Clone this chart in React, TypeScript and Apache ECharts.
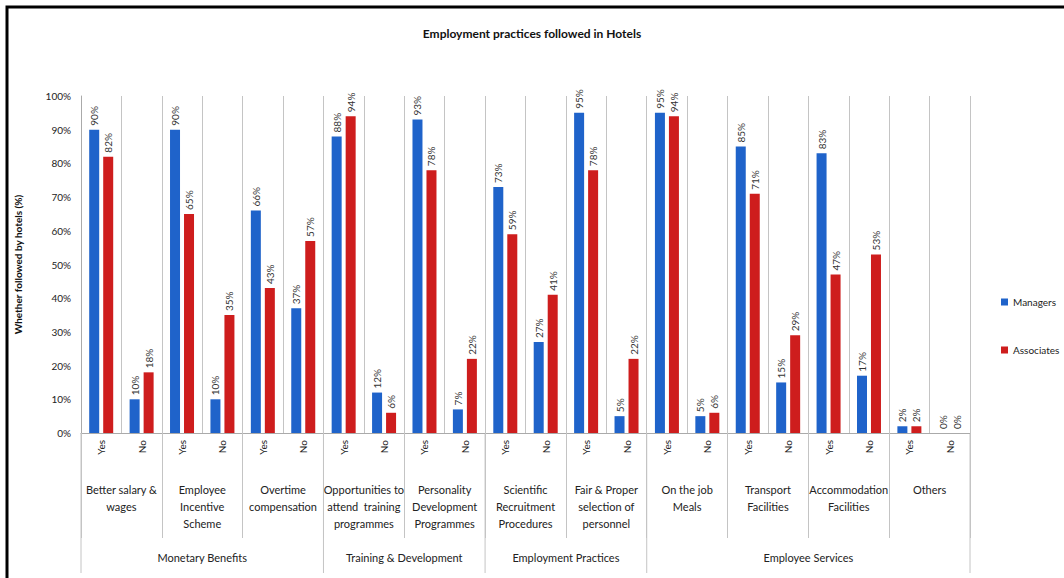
import React, { useEffect, useRef } from "react";
import * as echarts from "echarts";

const categories = [
  "Yes", "No", "Yes", "No", "Yes", "No", "Yes", "No", "Yes", "No", "Yes",
  "No", "Yes", "No", "Yes", "No", "Yes", "No", "Yes", "No", "Yes", "No",
];
const practices = [
  "Better salary &\nwages",
  "Employee\nIncentive\nScheme",
  "Overtime\ncompensation",
  "Opportunities to\nattend  training\nprogrammes",
  "Personality\nDevelopment\nProgrammes",
  "Scientific\nRecruitment\nProcedures",
  "Fair & Proper\nselection of\npersonnel",
  "On the job\nMeals",
  "Transport\nFacilities",
  "Accommodation\nFacilities",
  "Others",
];
const groups = ["Monetary Benefits", "Training & Development", "Employment Practices", "Employee Services"];
const groupPracticeCounts = [3, 2, 2, 4];
const managers = [90, 10, 90, 10, 66, 37, 88, 12, 93, 7, 73, 27, 95, 5, 95, 5, 85, 15, 83, 17, 2, 0];
const associates = [82, 18, 65, 35, 43, 57, 94, 6, 78, 22, 59, 41, 78, 22, 94, 6, 71, 29, 47, 53, 2, 0];
const yTicks = { min: 0, max: 100, interval: 10 };

const FONT = "Lato, 'Liberation Sans', sans-serif";
const BLUE = "#1F63CA";
const RED = "#CE1D1D";
const GRIDLINE = "#c4c4c4";

export default function App() {
  const ref = useRef<HTMLDivElement>(null);
  useEffect(() => {
    if (!ref.current) return;
    const chart = echarts.init(ref.current, null, { renderer: "svg" });
    const labelOpt = {
      show: true,
      position: "top",
      rotate: 90,
      align: "left",
      verticalAlign: "middle",
      distance: 4,
      formatter: "{c}%",
      fontSize: 10,
      fontFamily: FONT,
      color: "#333",
    };
    chart.setOption({
      animation: false,
      backgroundColor: "#fff",
      textStyle: { fontFamily: FONT },
      title: {
        text: "Employment practices followed in Hotels",
        left: "center",
        top: 22,
        textStyle: { fontSize: 12, fontWeight: "bold", color: "#111", fontFamily: FONT },
      },
      legend: {
        data: ["Managers", "Associates"],
        orient: "vertical",
        left: 996,
        top: 292,
        itemWidth: 7,
        itemHeight: 7,
        itemGap: 38,
        icon: "rect",
        textStyle: { fontSize: 10, color: "#222", fontFamily: FONT },
      },
      grid: { left: 81, right: 94, top: 96, bottom: 145, containLabel: false },
      xAxis: [
        {
          type: "category",
          data: categories,
          position: "bottom",
          axisLine: { show: true, lineStyle: { color: "#aaa" } },
          axisTick: { show: false },
          axisLabel: { interval: 0, rotate: 90, margin: 7, fontSize: 10, color: "#222", fontFamily: FONT },
          splitLine: { show: true, interval: 0, lineStyle: { color: GRIDLINE } },
        },
        {
          type: "category",
          data: practices,
          position: "bottom",
          axisLine: { show: false },
          axisTick: { show: true, interval: 0, length: 105, lineStyle: { color: GRIDLINE } },
          axisLabel: { interval: 0, margin: 48, fontSize: 11, lineHeight: 17, color: "#222", fontFamily: FONT },
          splitLine: { show: false },
        },
      ],
      yAxis: {
        type: "value",
        min: yTicks.min,
        max: yTicks.max,
        interval: yTicks.interval,
        name: "Whether followed by hotels (%)",
        nameLocation: "middle",
        nameGap: 58,
        nameTextStyle: { fontSize: 10, fontWeight: "bold", color: "#111", fontFamily: FONT },
        axisLine: { show: true, lineStyle: { color: "#aaa" } },
        axisTick: { show: false },
        axisLabel: { formatter: "{value}%", fontSize: 10, margin: 10, color: "#222", fontFamily: FONT },
        splitLine: { show: false },
      },
      series: [
        {
          name: "Managers",
          type: "bar",
          xAxisIndex: 0,
          data: managers,
          barWidth: 10,
          barGap: "40%",
          itemStyle: { color: BLUE },
          label: labelOpt,
        },
        {
          name: "Associates",
          type: "bar",
          xAxisIndex: 0,
          data: associates,
          barWidth: 10,
          barGap: "40%",
          itemStyle: { color: RED },
          label: labelOpt,
        },
      ],
    });

    const c0 = chart.convertToPixel({ xAxisIndex: 0 }, 0) as number;
    const c1 = chart.convertToPixel({ xAxisIndex: 0 }, 1) as number;
    const w = c1 - c0;
    const yBase = chart.convertToPixel({ yAxisIndex: 0 }, 0) as number;
    const bound = (i: number) => c0 - w / 2 + i * w;
    const elements: any[] = [];
    let idx = 0;
    const bounds = [0];
    groupPracticeCounts.forEach((n) => {
      idx += n * 2;
      bounds.push(idx);
    });
    bounds.forEach((b) => {
      elements.push({
        type: "line",
        shape: { x1: bound(b), y1: yBase, x2: bound(b), y2: yBase + 140 },
        style: { stroke: GRIDLINE, lineWidth: 1 },
        silent: true,
      });
    });
    groups.forEach((g, i) => {
      const mid = (bound(bounds[i]) + bound(bounds[i + 1])) / 2;
      elements.push({
        type: "text",
        x: mid,
        y: yBase + 124,
        style: {
          text: g,
          fontSize: 11,
          fontFamily: FONT,
          fill: "#222",
          textAlign: "center",
          textVerticalAlign: "middle",
        },
        silent: true,
      });
    });
    elements.push({
      type: "rect",
      shape: { x: 7, y: 7, width: 1100, height: 620 },
      style: { fill: "none", stroke: "#000", lineWidth: 3 },
      silent: true,
      z: 100,
    });
    chart.setOption({ graphic: elements });

    return () => chart.dispose();
  }, []);
  return (
    <div
      ref={ref}
      style={{ position: "fixed", left: 0, top: 0, width: 1064, height: 578, background: "#fff" }}
    />
  );
}
